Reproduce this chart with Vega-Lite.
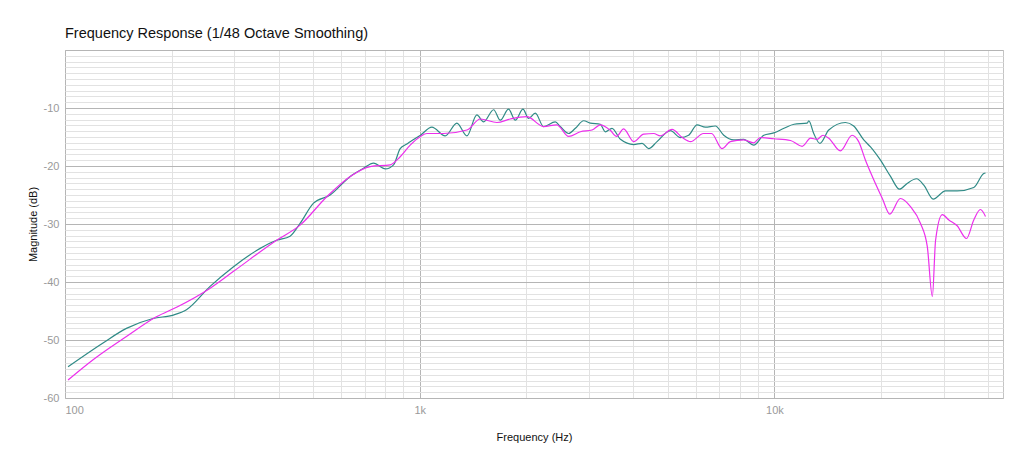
{
  "$schema": "https://vega.github.io/schema/vega-lite/v6.json",
  "autosize": "none",
  "width": 938,
  "height": 348,
  "padding": {"top": 50, "left": 65, "right": 21, "bottom": 70},
  "background": "white",
  "config": {
    "font": "Liberation Sans",
    "view": {"stroke": "#c4c4c4", "strokeWidth": 1},
    "axis": {"domain": false, "ticks": false, "labelColor": "#9a9a9a", "labelFontSize": 11, "titleFontSize": 11, "titleFontWeight": "normal", "titleColor": "#111111", "labelOverlap": false}
  },
  "title": {"text": "Frequency Response (1/48 Octave Smoothing)", "anchor": "start", "frame": "group", "fontSize": 14.5, "fontWeight": "normal", "color": "#111111", "offset": 3},
  "data": {"values": [
    {"f": 102, "db": -54.6, "s": "A"}, {"f": 128, "db": -50.5, "s": "A"}, {"f": 149, "db": -48.0, "s": "A"}, {"f": 177, "db": -46.3, "s": "A"}, {"f": 202, "db": -45.7, "s": "A"}, {"f": 220, "db": -44.8, "s": "A"}, {"f": 256, "db": -40.8, "s": "A"}, {"f": 298, "db": -37.4, "s": "A"}, {"f": 355, "db": -34.2, "s": "A"}, {"f": 395, "db": -32.8, "s": "A"}, {"f": 431, "db": -32.1, "s": "A"}, {"f": 460, "db": -29.9, "s": "A"}, {"f": 502, "db": -26.4, "s": "A"}, {"f": 559, "db": -25.0, "s": "A"}, {"f": 637, "db": -21.8, "s": "A"}, {"f": 694, "db": -20.4, "s": "A"}, {"f": 741, "db": -19.5, "s": "A"}, {"f": 800, "db": -20.5, "s": "A"}, {"f": 844, "db": -19.8, "s": "A"}, {"f": 881, "db": -17.0, "s": "A"}, {"f": 920, "db": -16.2, "s": "A"}, {"f": 940, "db": -15.8, "s": "A"}, {"f": 1005, "db": -14.7, "s": "A"}, {"f": 1082, "db": -13.3, "s": "A"}, {"f": 1180, "db": -14.8, "s": "A"}, {"f": 1273, "db": -12.6, "s": "A"}, {"f": 1359, "db": -14.8, "s": "A"}, {"f": 1449, "db": -11.2, "s": "A"}, {"f": 1514, "db": -12.4, "s": "A"}, {"f": 1616, "db": -10.3, "s": "A"}, {"f": 1687, "db": -12.1, "s": "A"}, {"f": 1780, "db": -10.2, "s": "A"}, {"f": 1860, "db": -12.1, "s": "A"}, {"f": 1955, "db": -10.2, "s": "A"}, {"f": 2027, "db": -11.8, "s": "A"}, {"f": 2118, "db": -10.9, "s": "A"}, {"f": 2235, "db": -13.2, "s": "A"}, {"f": 2411, "db": -12.4, "s": "A"}, {"f": 2490, "db": -13.2, "s": "A"}, {"f": 2630, "db": -14.4, "s": "A"}, {"f": 2747, "db": -13.5, "s": "A"}, {"f": 2898, "db": -12.2, "s": "A"}, {"f": 3027, "db": -12.6, "s": "A"}, {"f": 3229, "db": -12.8, "s": "A"}, {"f": 3336, "db": -14.1, "s": "A"}, {"f": 3484, "db": -13.5, "s": "A"}, {"f": 3680, "db": -15.4, "s": "A"}, {"f": 4012, "db": -16.3, "s": "A"}, {"f": 4236, "db": -16.1, "s": "A"}, {"f": 4419, "db": -17.0, "s": "A"}, {"f": 4667, "db": -15.8, "s": "A"}, {"f": 5090, "db": -13.9, "s": "A"}, {"f": 5433, "db": -15.1, "s": "A"}, {"f": 5731, "db": -14.7, "s": "A"}, {"f": 6053, "db": -12.9, "s": "A"}, {"f": 6387, "db": -13.3, "s": "A"}, {"f": 6817, "db": -13.1, "s": "A"}, {"f": 7198, "db": -14.7, "s": "A"}, {"f": 7679, "db": -15.5, "s": "A"}, {"f": 8194, "db": -15.4, "s": "A"}, {"f": 8745, "db": -16.4, "s": "A"}, {"f": 9333, "db": -14.7, "s": "A"}, {"f": 9960, "db": -14.3, "s": "A"}, {"f": 10640, "db": -13.5, "s": "A"}, {"f": 11360, "db": -12.8, "s": "A"}, {"f": 12370, "db": -12.6, "s": "A"}, {"f": 12500, "db": -12.2, "s": "A"}, {"f": 12910, "db": -14.4, "s": "A"}, {"f": 13430, "db": -16.1, "s": "A"}, {"f": 14230, "db": -13.8, "s": "A"}, {"f": 15850, "db": -12.5, "s": "A"}, {"f": 16730, "db": -13.1, "s": "A"}, {"f": 17860, "db": -15.5, "s": "A"}, {"f": 18660, "db": -16.7, "s": "A"}, {"f": 19910, "db": -19.0, "s": "A"}, {"f": 21250, "db": -21.8, "s": "A"}, {"f": 22520, "db": -24.0, "s": "A"}, {"f": 23670, "db": -23.0, "s": "A"}, {"f": 25160, "db": -22.2, "s": "A"}, {"f": 26380, "db": -23.3, "s": "A"}, {"f": 28030, "db": -25.7, "s": "A"}, {"f": 30360, "db": -24.3, "s": "A"}, {"f": 32750, "db": -24.3, "s": "A"}, {"f": 36480, "db": -23.7, "s": "A"}, {"f": 38920, "db": -21.3, "s": "A"}, {"f": 39370, "db": -21.2, "s": "A"},
    {"f": 102, "db": -56.9, "s": "B"}, {"f": 120, "db": -53.4, "s": "B"}, {"f": 149, "db": -49.4, "s": "B"}, {"f": 181, "db": -46.0, "s": "B"}, {"f": 207, "db": -44.3, "s": "B"}, {"f": 256, "db": -41.1, "s": "B"}, {"f": 298, "db": -38.2, "s": "B"}, {"f": 395, "db": -32.8, "s": "B"}, {"f": 460, "db": -30.2, "s": "B"}, {"f": 547, "db": -25.3, "s": "B"}, {"f": 637, "db": -21.8, "s": "B"}, {"f": 725, "db": -20.1, "s": "B"}, {"f": 826, "db": -19.8, "s": "B"}, {"f": 881, "db": -18.4, "s": "B"}, {"f": 940, "db": -16.4, "s": "B"}, {"f": 1005, "db": -14.9, "s": "B"}, {"f": 1048, "db": -14.4, "s": "B"}, {"f": 1167, "db": -14.4, "s": "B"}, {"f": 1359, "db": -13.8, "s": "B"}, {"f": 1482, "db": -11.9, "s": "B"}, {"f": 1651, "db": -12.5, "s": "B"}, {"f": 1800, "db": -11.9, "s": "B"}, {"f": 2005, "db": -11.5, "s": "B"}, {"f": 2235, "db": -13.2, "s": "B"}, {"f": 2435, "db": -12.9, "s": "B"}, {"f": 2630, "db": -14.9, "s": "B"}, {"f": 2838, "db": -14.1, "s": "B"}, {"f": 3061, "db": -13.8, "s": "B"}, {"f": 3229, "db": -12.9, "s": "B"}, {"f": 3440, "db": -13.8, "s": "B"}, {"f": 3590, "db": -14.9, "s": "B"}, {"f": 3758, "db": -13.6, "s": "B"}, {"f": 4012, "db": -15.8, "s": "B"}, {"f": 4281, "db": -14.5, "s": "B"}, {"f": 4567, "db": -14.4, "s": "B"}, {"f": 4770, "db": -14.8, "s": "B"}, {"f": 5146, "db": -13.7, "s": "B"}, {"f": 5500, "db": -15.1, "s": "B"}, {"f": 5800, "db": -15.8, "s": "B"}, {"f": 6310, "db": -14.4, "s": "B"}, {"f": 6650, "db": -14.4, "s": "B"}, {"f": 7115, "db": -17.0, "s": "B"}, {"f": 7510, "db": -15.8, "s": "B"}, {"f": 8194, "db": -15.5, "s": "B"}, {"f": 8745, "db": -16.0, "s": "B"}, {"f": 9125, "db": -15.1, "s": "B"}, {"f": 9960, "db": -15.3, "s": "B"}, {"f": 11100, "db": -15.6, "s": "B"}, {"f": 11970, "db": -16.6, "s": "B"}, {"f": 12650, "db": -15.2, "s": "B"}, {"f": 13190, "db": -15.4, "s": "B"}, {"f": 13710, "db": -14.7, "s": "B"}, {"f": 14230, "db": -15.2, "s": "B"}, {"f": 15350, "db": -17.4, "s": "B"}, {"f": 16560, "db": -14.7, "s": "B"}, {"f": 17280, "db": -15.8, "s": "B"}, {"f": 18060, "db": -19.0, "s": "B"}, {"f": 18880, "db": -21.8, "s": "B"}, {"f": 20150, "db": -25.6, "s": "B"}, {"f": 21150, "db": -28.3, "s": "B"}, {"f": 22650, "db": -25.6, "s": "B"}, {"f": 24190, "db": -27.0, "s": "B"}, {"f": 25820, "db": -29.9, "s": "B"}, {"f": 26980, "db": -33.9, "s": "B"}, {"f": 27880, "db": -42.5, "s": "B"}, {"f": 28470, "db": -32.8, "s": "B"}, {"f": 29730, "db": -28.4, "s": "B"}, {"f": 31030, "db": -29.3, "s": "B"}, {"f": 32750, "db": -30.3, "s": "B"}, {"f": 34790, "db": -32.5, "s": "B"}, {"f": 36480, "db": -29.3, "s": "B"}, {"f": 38090, "db": -27.5, "s": "B"}, {"f": 39370, "db": -28.7, "s": "B"}
  ]},
  "mark": {"type": "line", "interpolate": "monotone", "strokeWidth": 1.2},
  "encoding": {
    "x": {
      "field": "f", "type": "quantitative",
      "scale": {"type": "log", "domain": [100, 44100], "nice": false},
      "axis": {
        "title": "Frequency (Hz)", "titlePadding": 16, "labelPadding": 6,
        "values": [100,200,300,400,500,600,700,800,900,1000,2000,3000,4000,5000,6000,7000,8000,9000,10000,20000,30000,40000],
        "labelExpr": "datum.value == 100 ? '100' : datum.value == 1000 ? '1k' : datum.value == 10000 ? '10k' : ''",
        "gridColor": {"condition": {"test": "datum.value == 100 || datum.value == 1000 || datum.value == 10000", "value": "#b5b5b5"}, "value": "#e2e2e2"}
      }
    },
    "y": {
      "field": "db", "type": "quantitative",
      "scale": {"domain": [-60, 0], "nice": false},
      "axis": {
        "title": "Magnitude (dB)", "titlePadding": 5, "labelPadding": 6,
        "values": [-60,-59,-58,-57,-56,-55,-54,-53,-52,-51,-50,-49,-48,-47,-46,-45,-44,-43,-42,-41,-40,-39,-38,-37,-36,-35,-34,-33,-32,-31,-30,-29,-28,-27,-26,-25,-24,-23,-22,-21,-20,-19,-18,-17,-16,-15,-14,-13,-12,-11,-10,-9,-8,-7,-6,-5,-4,-3,-2,-1,0],
        "labelExpr": "datum.value % 10 == 0 && datum.value != 0 ? toString(datum.value) : ''",
        "gridColor": {"condition": {"test": "datum.value % 10 == 0", "value": "#b5b5b5"}, "value": "#e2e2e2"}
      }
    },
    "color": {"field": "s", "type": "nominal", "scale": {"domain": ["A", "B"], "range": ["#2f8a86", "#ec2fec"]}, "legend": null}
  }
}
